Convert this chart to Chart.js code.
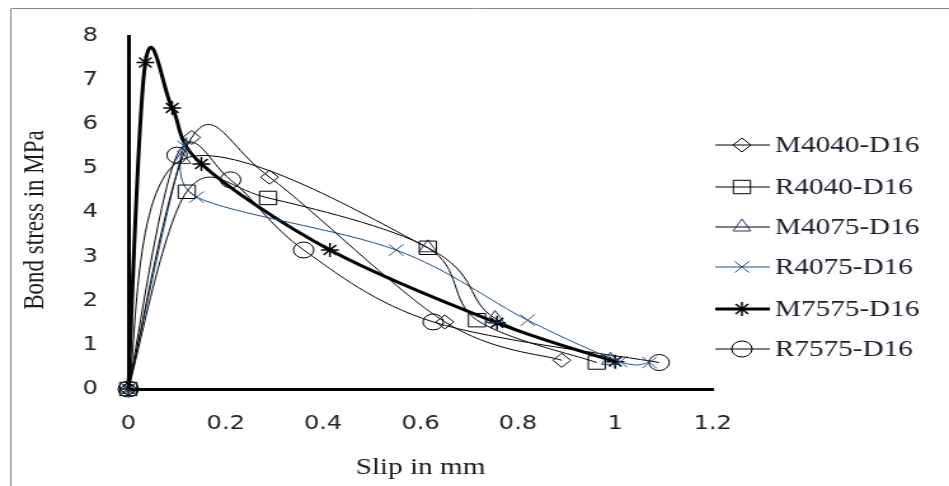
<!DOCTYPE html>
<html>
<head>
<meta charset="utf-8">
<script src="https://cdn.jsdelivr.net/npm/chart.js@4.4.1/dist/chart.umd.min.js"></script>
<style>
html,body{margin:0;padding:0;background:#fff;overflow:hidden;}
#wrap{position:absolute;left:0;top:0;width:747px;height:486px;transform:scaleX(1.27041);transform-origin:0 0;}
</style>
</head>
<body>
<div id="wrap"><canvas id="c" width="747" height="486"></canvas></div>
<script>
// ---- data ----
const seriesNames = ['M4040-D16','R4040-D16','M4075-D16','R4075-D16','M7575-D16','R7575-D16'];
const xTicks = [0, 0.2, 0.4, 0.6, 0.8, 1, 1.2];
const yTicks = [0, 1, 2, 3, 4, 5, 6, 7, 8];

const xM4040 = [0, 0.13, 0.29, 0.65, 0.89];
const yM4040 = [0, 5.7, 4.8, 1.52, 0.65];

const xR4040 = [0, 0.12, 0.287, 0.615, 0.716, 0.962];
const yR4040 = [0, 4.47, 4.33, 3.2, 1.56, 0.6];

const xM4075 = [0, 0.11, 0.615, 0.753, 0.99];
const yM4075 = [0, 5.2, 3.2, 1.6, 0.65];

const xR4075 = [0, 0.115, 0.14, 0.55, 0.82, 1.01, 1.07];
const yR4075 = [0, 5.5, 4.35, 3.15, 1.56, 0.62, 0.6];

const xM7575 = [0, 0.035, 0.09, 0.15, 0.414, 0.757, 1.0];
const yM7575 = [0, 7.4, 6.37, 5.1, 3.15, 1.5, 0.62];

const xR7575 = [0, 0.1, 0.21, 0.36, 0.626, 1.09];
const yR7575 = [0, 5.3, 4.74, 3.15, 1.52, 0.6];

const xs = [xM4040, xR4040, xM4075, xR4075, xM7575, xR7575];
const ys = [yM4040, yR4040, yM4075, yR4075, yM7575, yR7575];

// ---- styles ----
const lineColors  = ['#000000','#000000','#000000','#1F4E79','#000000','#000000'];
const markColors  = ['#000000','#000000','#1F3864','#1F4E79','#000000','#000000'];
const lineWidths  = [1, 1, 1, 1, 3, 1];
const pStyles     = ['rectRot','rect','triangle','crossRot','star','circle'];
const pRadius     = [7, 9.5, 8, 8, 7, 8];

const datasets = seriesNames.map((name, i) => ({
  label: name,
  data: xs[i].map((x, j) => ({x: x, y: ys[i][j]})),
  borderColor: lineColors[i],
  borderWidth: lineWidths[i],
  pointStyle: pStyles[i],
  pointRadius: pRadius[i],
  pointBorderColor: markColors[i],
  pointBackgroundColor: 'rgba(0,0,0,0)',
  pointBorderWidth: i === 4 ? 1.5 : 1,
  tension: 0.4,
  fill: false,
  clip: false
}));

// Excel-like smoothing: Catmull-Rom tangents (1/6) on the library's pixel positions
const excelSmooth = {
  id: 'excelSmooth',
  beforeDatasetDraw(chart, args) {
    const meta = args.meta;
    const line = meta.dataset;
    const pts = meta.data;
    if (line && line.updateControlPoints) line.updateControlPoints(chart.chartArea, 'x');
    const n = pts.length;
    for (let i = 0; i < n; i++) {
      const p = pts[i];
      const prev = pts[Math.max(0, i - 1)];
      const next = pts[Math.min(n - 1, i + 1)];
      const tx = (next.x - prev.x) / 6, ty = (next.y - prev.y) / 6;
      p.cp1x = p.x - tx; p.cp1y = p.y - ty;
      p.cp2x = p.x + tx; p.cp2y = p.y + ty;
    }
  }
};

const decor = {
  id: 'decor',
  afterDraw(chart) {
    const ctx = chart.ctx;
    ctx.save();
    // outer frame
    ctx.strokeStyle = '#8a8a8a';
    ctx.lineWidth = 1;
    ctx.beginPath();
    ctx.moveTo(8.5, 486); ctx.lineTo(8.5, 8.5); ctx.lineTo(747, 8.5);
    ctx.stroke();
    // axis titles
    ctx.fillStyle = '#1a1a1a';
    ctx.font = '23px "Liberation Serif"';
    ctx.textAlign = 'center';
    ctx.textBaseline = 'middle';
    const ca = chart.chartArea;
    ctx.fillText('Slip in mm', (ca.left + ca.right) / 2, 468);
    ctx.save();
    ctx.translate(27.5, 220);
    ctx.rotate(-Math.PI / 2);
    ctx.fillText('Bond stress in MPa', 0, 0);
    ctx.restore();
    // legend
    const lx0 = 563, lx1 = 606, mx = 584, tx = 610;
    const ly = [145, 187, 227, 267, 309, 349];
    chart.data.datasets.forEach((ds, i) => {
      const y = ly[i];
      ctx.strokeStyle = ds.borderColor;
      ctx.lineWidth = ds.borderWidth;
      ctx.beginPath(); ctx.moveTo(lx0, y); ctx.lineTo(lx1, y); ctx.stroke();
      ctx.strokeStyle = ds.pointBorderColor;
      ctx.lineWidth = ds.pointBorderWidth;
      ctx.fillStyle = 'rgba(0,0,0,0)';
      Chart.helpers.drawPoint(ctx, {pointStyle: ds.pointStyle, radius: ds.pointRadius, rotation: 0, borderWidth: ds.pointBorderWidth}, mx, y);
      ctx.fillStyle = '#1c1c2c';
      ctx.textAlign = 'left';
      ctx.textBaseline = 'middle';
      ctx.font = '23px "Liberation Serif"';
      ctx.fillText(ds.label, tx, y + 1);
    });
    ctx.restore();
  }
};

const fmt = v => String(Math.round(v * 10) / 10);

new Chart(document.getElementById('c'), {
  type: 'line',
  data: { datasets: datasets },
  options: {
    responsive: false,
    animation: false,
    devicePixelRatio: 1,
    layout: { padding: { left: 0, right: 186, top: 36, bottom: 0 } },
    plugins: { legend: { display: false }, tooltip: { enabled: false } },
    scales: {
      x: {
        type: 'linear', min: 0, max: 1.2,
        afterBuildTicks: s => { s.ticks = xTicks.map(v => ({value: v})); },
        afterFit: s => { s.height = 97; },
        grid: { display: false },
        border: { display: true, color: '#000', width: 3 },
        ticks: { color: '#222', padding: 16, maxRotation: 0, callback: fmt, font: { family: '"DejaVu Sans"', size: 19 } }
      },
      y: {
        type: 'linear', min: 0, max: 8,
        afterBuildTicks: s => { s.ticks = yTicks.map(v => ({value: v})); },
        afterFit: s => { s.width = 101; },
        grid: { display: false },
        border: { display: true, color: '#000', width: 3 },
        ticks: { color: '#222', padding: 16, callback: fmt, font: { family: '"DejaVu Sans"', size: 19 } }
      }
    }
  },
  plugins: [excelSmooth, decor]
});
</script>
</body>
</html>
